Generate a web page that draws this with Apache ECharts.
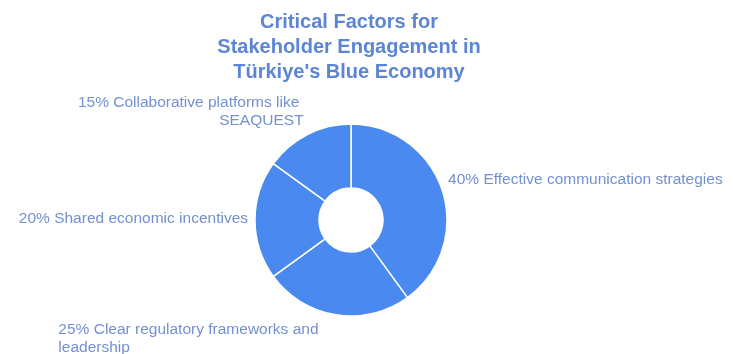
<!DOCTYPE html>
<html>
<head>
<meta charset="utf-8">
<script src="https://cdn.jsdelivr.net/npm/echarts@6/dist/echarts.min.js"></script>
<style>
  html, body { margin: 0; padding: 0; background: #ffffff; }
  #chart { width: 733px; height: 354px; }
</style>
</head>
<body>
<div id="chart"></div>
<script>
// Share of each factor (percent), clockwise from 12 o'clock
const factors = [
  'Effective communication strategies',
  'Clear regulatory frameworks and leadership',
  'Shared economic incentives',
  'Collaborative platforms like SEAQUEST'
];
const shares = [40, 25, 20, 15];

const titleText = 'Critical Factors for\nStakeholder Engagement in\nTürkiye\'s Blue Economy';

const chart = echarts.init(document.getElementById('chart'), null, { renderer: 'canvas' });

// Per-label nudges so the captions sit close to the ring;
// the bottom caption is left-aligned inside its wrap box
const labelShift = [
  { dx: -3, dy: -9, leftAlign: false },
  { dx: 4, dy: 20, leftAlign: true },
  { dx: 2, dy: -1, leftAlign: false },
  { dx: 3, dy: -19, leftAlign: false }
];

chart.setOption({
  animation: false,
  title: {
    text: titleText,
    left: 344,
    top: 4.5,
    textAlign: 'center',
    textStyle: {
      fontFamily: 'Liberation Sans, Arial, sans-serif',
      fontSize: 20,
      fontWeight: 'bold',
      color: '#5c85d6',
      lineHeight: 25
    }
  },
  series: [{
    type: 'pie',
    center: [351, 220],
    radius: [32, 96],
    startAngle: 90,
    clockwise: true,
    avoidLabelOverlap: false,
    itemStyle: {
      color: '#4a8af0',
      borderColor: '#ffffff',
      borderWidth: 1.5
    },
    label: {
      show: true,
      position: 'outside',
      formatter: function (p) { return p.value + '% ' + p.name; },
      fontFamily: 'Liberation Sans, Arial, sans-serif',
      fontSize: 15.5,
      color: '#7390d0',
      lineHeight: 18,
      width: 276,
      overflow: 'break'
    },
    labelLine: { show: false, length: 4, length2: 0 },
    labelLayout: function (params) {
      const s = labelShift[params.dataIndex];
      if (s.leftAlign) {
        return { align: 'left', dx: s.dx - params.labelRect.width, dy: s.dy };
      }
      return { dx: s.dx, dy: s.dy };
    },
    data: factors.map(function (name, i) {
      return { name: name, value: shares[i] };
    })
  }]
});
</script>
</body>
</html>
